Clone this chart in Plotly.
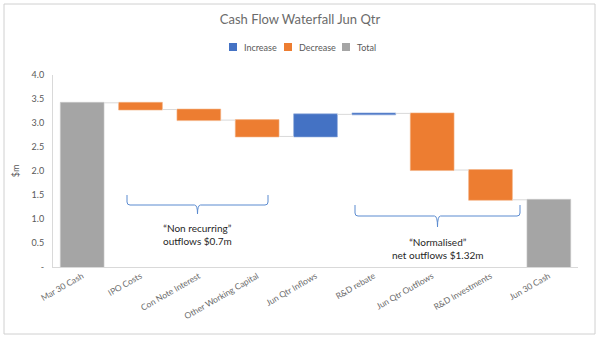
import plotly.graph_objects as go

categories = ["Mar 30 Cash", "IPO Costs", "Con Note Interest", "Other Working Capital",
              "Jun Qtr Inflows", "R&D rebate", "Jun Qtr Outflows", "R&D Investments", "Jun 30 Cash"]
values = [3.42, -0.14, -0.22, -0.34, 0.46, 0.02, -1.18, -0.62, 0]
measures = ["absolute", "relative", "relative", "relative", "relative", "relative",
            "relative", "relative", "total"]
tick_vals = [0, 0.5, 1.0, 1.5, 2.0, 2.5, 3.0, 3.5, 4.0]
tick_text = ["-", "0.5", "1.0", "1.5", "2.0", "2.5", "3.0", "3.5", "4.0"]
legend_names = ["Increase", "Decrease", "Total"]

BLUE = "#4472C4"
ORANGE = "#ED7D31"
GRAY = "#A5A5A5"
legend_colors = [BLUE, ORANGE, GRAY]
TXT = "#595959"
FONT = "Lato"

W, H = 600, 339
L, R, T, B = 53, 22, 75, 72
PW, PH = W - L - R, H - T - B

def px(x):
    return (x - L) / PW

def py(y):
    return (H - B - y) / PH

fig = go.Figure()
fig.add_trace(go.Waterfall(
    x=categories, y=values, measure=measures, showlegend=False,
    increasing=dict(marker=dict(color=BLUE, line=dict(color="#8FAADC", width=0.6))),
    decreasing=dict(marker=dict(color=ORANGE, line=dict(color="#F4B183", width=0.6))),
    totals=dict(marker=dict(color=GRAY, line=dict(color="#C9C9C9", width=0.6))),
    connector=dict(line=dict(color="#D9D9D9", width=1), mode="between"),
    hoverinfo="x+y",
))

def brace(x0, x1, ytop, yline, ytip, r=3):
    xm = (x0 + x1) / 2
    pts = (f"M {px(x0)},{py(ytop)} L {px(x0)},{py(yline - r)} "
           f"Q {px(x0)},{py(yline)} {px(x0 + r)},{py(yline)} "
           f"L {px(xm - r)},{py(yline)} Q {px(xm)},{py(yline)} {px(xm)},{py(ytip)} "
           f"Q {px(xm)},{py(yline)} {px(xm + r)},{py(yline)} "
           f"L {px(x1 - r)},{py(yline)} Q {px(x1)},{py(yline)} {px(x1)},{py(yline - r)} "
           f"L {px(x1)},{py(ytop)}")
    return dict(type="path", xref="paper", yref="paper", path=pts,
                line=dict(color="#5B8BD0", width=1))

shapes = [
    brace(127, 268, 195, 205, 214),
    brace(355, 520, 205, 216, 227),
    dict(type="rect", xref="paper", yref="paper", x0=px(4), x1=px(595), y0=py(4), y1=py(334),
         line=dict(color="#D0D0D0", width=1), layer="below"),
]

annotations = [
    dict(x=px(197), y=py(234), xref="paper", yref="paper", showarrow=False,
         xanchor="center", yanchor="middle",
         text="“Non recurring”<br>outflows $0.7m", font=dict(size=10, color="#262626", family=FONT),
         align="center"),
    dict(x=px(438), y=py(248), xref="paper", yref="paper", showarrow=False,
         xanchor="center", yanchor="middle",
         text="“Normalised”<br>net outflows $1.32m", font=dict(size=10, color="#262626", family=FONT),
         align="center"),
]

leg_x = [229, 284, 342]
for name, col, lx in zip(legend_names, legend_colors, leg_x):
    shapes.append(dict(type="rect", xref="paper", yref="paper",
                       x0=px(lx), x1=px(lx + 8), y0=py(51), y1=py(43),
                       fillcolor=col, line=dict(width=0)))
    annotations.append(dict(x=px(lx + 13), y=py(47), xref="paper", yref="paper",
                            showarrow=False, xanchor="left", yanchor="middle",
                            text=name, font=dict(size=9, color=TXT, family=FONT)))

fig.update_layout(
    width=W, height=H,
    margin=dict(l=L, r=R, t=T, b=B),
    paper_bgcolor="white", plot_bgcolor="white",
    font=dict(family=FONT, color=TXT, size=9),
    title=dict(text="Cash Flow Waterfall Jun Qtr", x=0.5, xanchor="center",
               y=1 - 19 / H, yanchor="middle", yref="container",
               font=dict(size=13, color="#6b6b6b", family=FONT)),
    showlegend=False,
    waterfallgap=0.25,
    shapes=shapes, annotations=annotations,
)
fig.update_xaxes(type="category", tickangle=-30, showgrid=False, showline=True,
                 linecolor="#D9D9D9", linewidth=1, ticks="", tickfont=dict(size=8.5, color="#6b6b6b"))
fig.update_yaxes(range=[0, 4], tickvals=tick_vals, ticktext=tick_text, showgrid=False,
                 showline=True, linecolor="#D9D9D9", linewidth=1, zeroline=False,
                 ticks="", tickfont=dict(size=9, color=TXT), ticklabelstandoff=6,
                 title=dict(text="$m", font=dict(size=9, color=TXT), standoff=10))

fig.write_html("out.html")
